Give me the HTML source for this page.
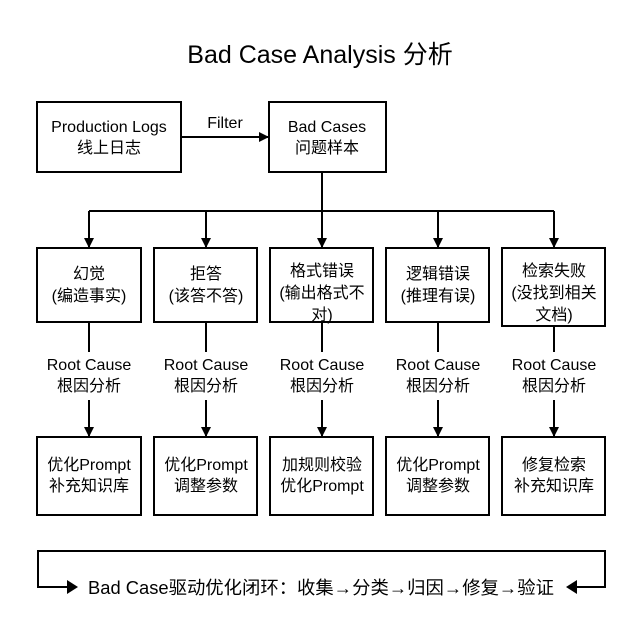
<!DOCTYPE html>
<html><head><meta charset="utf-8"><style>
html,body{margin:0;padding:0;background:#fff}
svg{display:block}
text{font-family:"Liberation Sans","Noto Sans CJK SC",sans-serif;fill:#000;text-anchor:middle}
</style></head><body>
<svg width="640" height="640" viewBox="0 0 640 640" xmlns="http://www.w3.org/2000/svg">
<defs><marker id="a" markerWidth="10" markerHeight="10" refX="9" refY="5" orient="auto" markerUnits="userSpaceOnUse"><path d="M0,0 L10,5 L0,10 Z" fill="#000"/></marker></defs>
<text x="320" y="63" font-size="25">Bad Case Analysis 分析</text>
<g fill="none" stroke="#000" stroke-width="2">
<rect x="37" y="102" width="144" height="70"/>
<rect x="269" y="102" width="117" height="70"/>
<line x1="181" y1="137" x2="268" y2="137" marker-end="url(#a)"/>
<line x1="322" y1="172" x2="322" y2="211"/>
<line x1="89" y1="211" x2="554" y2="211"/>
<line x1="89" y1="211" x2="89" y2="247" marker-end="url(#a)"/>
<line x1="206" y1="211" x2="206" y2="247" marker-end="url(#a)"/>
<line x1="322" y1="211" x2="322" y2="247" marker-end="url(#a)"/>
<line x1="438" y1="211" x2="438" y2="247" marker-end="url(#a)"/>
<line x1="554" y1="211" x2="554" y2="247" marker-end="url(#a)"/>
<rect x="37" y="248" width="104" height="74"/>
<rect x="154" y="248" width="103" height="74"/>
<rect x="270" y="248" width="103" height="74"/>
<rect x="386" y="248" width="103" height="74"/>
<rect x="502" y="248" width="103" height="78"/>
<line x1="89" y1="322" x2="89" y2="352"/><line x1="206" y1="322" x2="206" y2="352"/><line x1="322" y1="322" x2="322" y2="352"/><line x1="438" y1="322" x2="438" y2="352"/><line x1="554" y1="326" x2="554" y2="352"/>
<line x1="89" y1="400" x2="89" y2="436" marker-end="url(#a)"/><line x1="206" y1="400" x2="206" y2="436" marker-end="url(#a)"/><line x1="322" y1="400" x2="322" y2="436" marker-end="url(#a)"/><line x1="438" y1="400" x2="438" y2="436" marker-end="url(#a)"/><line x1="554" y1="400" x2="554" y2="436" marker-end="url(#a)"/>
<rect x="37" y="437" width="104" height="78"/>
<rect x="154" y="437" width="103" height="78"/>
<rect x="270" y="437" width="103" height="78"/>
<rect x="386" y="437" width="103" height="78"/>
<rect x="502" y="437" width="103" height="78"/>
<polyline points="70,587 38,587 38,551 605,551 605,587 573,587"/>
</g>
<path d="M67,580 L78,587 L67,594 Z"/>
<path d="M577,580 L566,587 L577,594 Z"/>
<g font-size="16">
<text x="109" y="132">Production Logs</text><text x="109" y="153">线上日志</text>
<text x="225" y="128">Filter</text>
<text x="327" y="132">Bad Cases</text><text x="327" y="153">问题样本</text>
<text x="89" y="279">幻觉</text><text x="89" y="301">(编造事实)</text>
<text x="206" y="279">拒答</text><text x="206" y="301">(该答不答)</text>
<text x="322" y="276">格式错误</text><text x="322" y="298">(输出格式不</text><text x="322" y="320">对)</text>
<text x="438" y="279">逻辑错误</text><text x="438" y="301">(推理有误)</text>
<text x="554" y="276">检索失败</text><text x="554" y="298">(没找到相关</text><text x="554" y="320">文档)</text>
<g>
<text x="89" y="370">Root Cause</text><text x="89" y="391">根因分析</text>
<text x="206" y="370">Root Cause</text><text x="206" y="391">根因分析</text>
<text x="322" y="370">Root Cause</text><text x="322" y="391">根因分析</text>
<text x="438" y="370">Root Cause</text><text x="438" y="391">根因分析</text>
<text x="554" y="370">Root Cause</text><text x="554" y="391">根因分析</text>
</g>
<text x="89" y="470">优化Prompt</text><text x="89" y="491">补充知识库</text>
<text x="206" y="470">优化Prompt</text><text x="206" y="491">调整参数</text>
<text x="322" y="470">加规则校验</text><text x="322" y="491">优化Prompt</text>
<text x="438" y="470">优化Prompt</text><text x="438" y="491">调整参数</text>
<text x="554" y="470">修复检索</text><text x="554" y="491">补充知识库</text>
</g>
<text x="321" y="594" font-size="18" textLength="466" lengthAdjust="spacingAndGlyphs">Bad Case驱动优化闭环：收集→分类→归因→修复→验证</text>
</svg>
</body></html>
